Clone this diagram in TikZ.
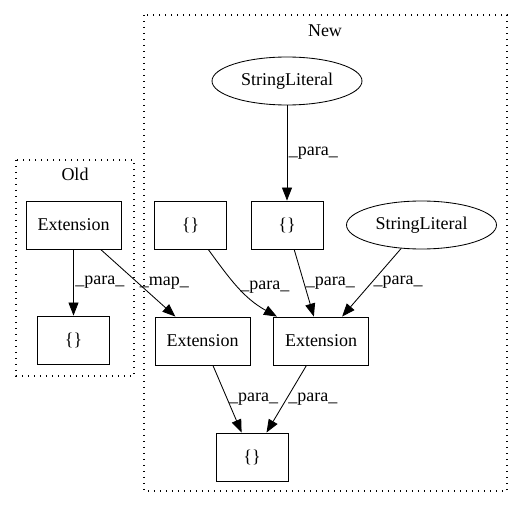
\documentclass[tikz,border=0pt]{standalone}
\usepackage{fontspec}
\setmainfont{Liberation Serif}
\usetikzlibrary{arrows.meta,shapes.geometric}

\begin{document}
\begin{tikzpicture}[x=1pt, y=-1pt, line width=0.85pt,
  every node/.style={font=\fontsize{18}{22}\selectfont},
  blk/.style={draw, rectangle, minimum width=72, minimum height=48, inner sep=0},
  ext/.style={blk, minimum width=95},
  lit/.style={draw, ellipse, minimum width=150, minimum height=48, inner sep=0},
  cluster/.style={line width=1.1pt, dash pattern=on 1.1pt off 4.9pt},
  edge/.style={-{Triangle[length=13pt, width=10pt]}},
  lbl/.style={right, inner sep=1.5pt}]
  \useasboundingbox (0,0) rectangle (523,508);
  % clusters
  \draw[cluster] (16,160) rectangle (134,376);
  \node (oldlbl) at (75,174) {Old};
  \draw[cluster] (144,15) rectangle (507,491);
  \node (newlbl) at (325,31) {New};
  % old
  \node[ext] (oldext) at (73.5,225) {Extension};
  \node[blk] (oldobj) at (73.5,340) {\{\}};
  % new
  \node[lit] (str1) at (287,81) {StringLiteral};
  \node[blk] (obj1) at (190.5,225) {\{\}};
  \node[blk] (obj2) at (287,225) {\{\}};
  \node[lit] (str2) at (421.5,225) {StringLiteral};
  \node[ext] (ext1) at (202.5,341) {Extension};
  \node[ext] (ext2) at (321,341) {Extension};
  \node[blk] (obj3) at (252,457) {\{\}};
  % edges
  \draw[edge] (oldext) -- node[lbl] (l1) {\_para\_} (oldobj);
  \draw[edge] (oldext) -- node[lbl] (l2) {\_map\_} (ext1);
  \draw[edge] (str1) -- node[lbl] (l3) {\_para\_} (obj2);
  \draw[edge] (obj1) to[out=-54, in=151] node[lbl] (l4) {\_para\_} (ext2);
  \draw[edge] (obj2) -- node[lbl] (l5) {\_para\_} (ext2);
  \draw[edge] (str2) -- node[lbl] (l6) {\_para\_} (ext2);
  \draw[edge] (ext1) -- node[lbl] (l7) {\_para\_} (obj3);
  \draw[edge] (ext2) -- node[lbl] (l8) {\_para\_} (obj3);
\end{tikzpicture}
\end{document}
